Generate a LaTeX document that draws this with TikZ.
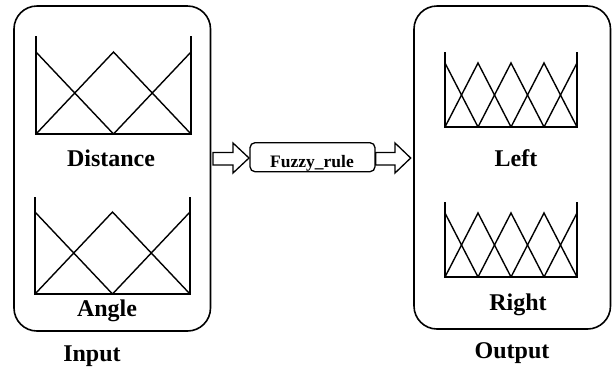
\documentclass[tikz,border=0pt]{standalone}
\usepackage{fontspec}
\setmainfont{Liberation Serif}
\begin{document}
\begin{tikzpicture}[x=1pt,y=-1pt,
  group/.style={draw,line width=1.6pt,rounded corners=23pt},
  rulebox/.style={draw,line width=1.3pt,rounded corners=5pt,minimum width=125pt,minimum height=29pt,inner sep=0pt},
  mf/.style={line width=1.4pt,line join=miter},
  lbl/.style={font=\bfseries\fontsize{24}{26}\selectfont,inner sep=0pt,anchor=base},
  rulelbl/.style={font=\bfseries\fontsize{17.5}{19}\selectfont,inner sep=0pt,anchor=base},
  hollow/.style={draw,line width=1.3pt,fill=white,line join=miter}]
\useasboundingbox (0,0) rectangle (615,368);
% group boxes
\draw[group] (14,6) rectangle (210.5,331);
\draw[group] (414,6) rectangle (610.5,329);
% Distance MF
\draw[mf] (36,36) -- (36,134) -- (191,134) -- (191,36);
\draw[mf] (36,52) -- (113.5,134);
\draw[mf] (36,134) -- (113.5,52) -- (191,134);
\draw[mf] (113.5,134) -- (191,52);
\node[lbl] (dist) at (111,166.7) {Distance};
% Angle MF
\draw[mf] (35,197) -- (35,294) -- (190,294) -- (190,197);
\draw[mf] (35,212) -- (112.5,294);
\draw[mf] (35,294) -- (112.5,212) -- (190,294);
\draw[mf] (112.5,294) -- (190,212);
\node[lbl] (ang) at (107,316.7) {Angle};
\node[lbl] (inp) at (92,361.7) {Input};
% Left MF
\draw[mf] (445,52) -- (445,127) -- (577,127) -- (577,52);
\draw[mf] (445,63) -- (478,127);
\foreach \c in {478,511,544} {\draw[mf] (\c-33,127) -- (\c,63) -- (\c+33,127);}
\draw[mf] (544,127) -- (577,63);
\node[lbl] (left) at (516,166.7) {Left};
% Right MF
\draw[mf] (445,202) -- (445,277) -- (577,277) -- (577,202);
\draw[mf] (445,213) -- (478,277);
\foreach \c in {478,511,544} {\draw[mf] (\c-33,277) -- (\c,213) -- (\c+33,277);}
\draw[mf] (544,277) -- (577,213);
\node[lbl] (right) at (518,310) {Right};
\node[lbl] (outp) at (512,358.3) {Output};
% rule box
\node[rulebox] (rule) at (312.5,157.2) {};
\node[rulelbl] (rulet) at (312,167) {Fuzzy\_rule};
% hollow arrows
\draw[hollow] (213,152.5) -- (233,152.5) -- (233,143) -- (249,158) -- (233,173) -- (233,165) -- (213,165) -- cycle;
\draw[hollow] (375.7,152.5) -- (395,152.5) -- (395,143) -- (410.7,158) -- (395,173) -- (395,165) -- (375.7,165) -- cycle;
\end{tikzpicture}
\end{document}
